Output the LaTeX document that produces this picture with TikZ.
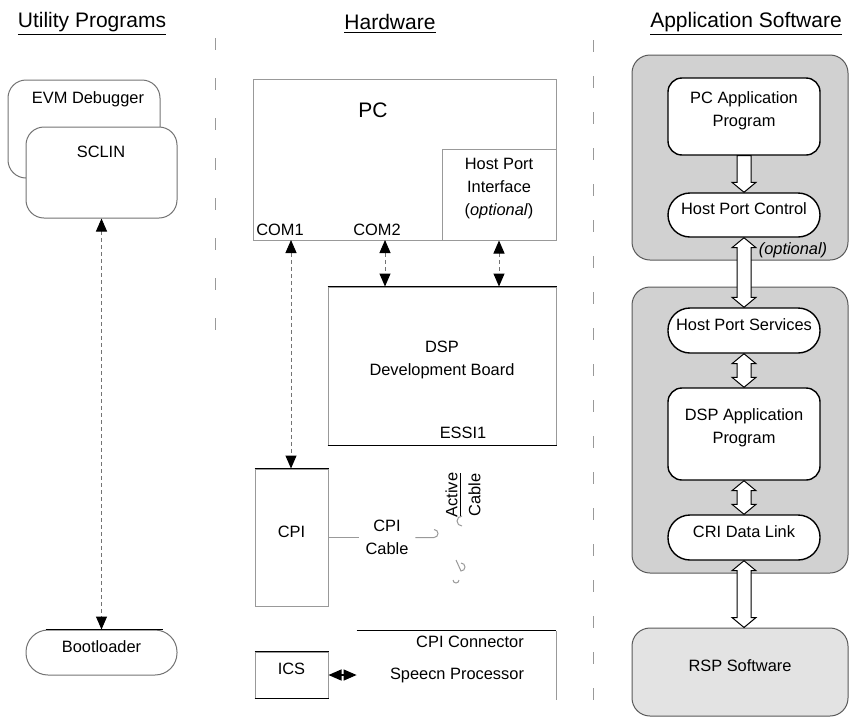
\documentclass[tikz,border=0pt]{standalone}
\usepackage{fontspec}
\setmainfont{Liberation Sans}
\usetikzlibrary{arrows.meta,fit,calc}

\begin{document}
\begin{tikzpicture}[x=0.5pt,y=-0.5pt,
  font=\fontsize{8.2}{11.5}\selectfont,
  every node/.append style={align=center},
  >={Triangle[width=5.5pt,length=6.5pt,color=black]},
  faint/.style={draw=black!40,line width=0.5pt},
  hwbox/.style={faint,inner sep=0pt},
  utilbox/.style={draw=black!55,line width=0.5pt,rounded corners=9pt,inner sep=0pt},
  appgroup/.style={draw=black!65,line width=0.5pt,fill=black!18,rounded corners=9pt,inner sep=0pt},
  appbox/.style={draw,line width=0.7pt,fill=white,rounded corners=7pt,inner sep=0pt},
  stadium/.style={appbox,rounded corners=11pt},
  heading/.style={font=\fontsize{10.5}{12}\selectfont},
  link/.style={<->,draw=black!55,line width=0.5pt,dash pattern=on 2pt off 1.5pt},
  hollow/.style={draw,line width=0.5pt,fill=white},
  ]
\useasboundingbox (0,0) rectangle (850,718);

% headings and separators
\node[heading] (hutil) at (92,24) {\underline{Utility Programs}};
\node[heading] (hhw) at (390,24) {\underline{Hardware}};
\node[heading] (happ) at (746,24) {\underline{Application Software}};
\draw[faint,dash pattern=on 6pt off 14pt] (215,38) -- (215,330);
\draw[faint,dash pattern=on 6pt off 12pt] (593,40) -- (593,700);

% utility programs
\node[utilbox,fit={(8,80) (160,178)}] (evm) {};
\node (evmtxt) at (88,99) {EVM Debugger};
\node[utilbox,fill=white,fit={(26,127) (177,218)}] (sclin) {};
\node (sclintxt) at (101,152) {SCLIN};
\node[utilbox,rounded corners=11pt,fit={(26,630) (177,675)}] (boot) {Bootloader};
\draw ($(boot.north west)+(20,0)$) -- ($(boot.north east)+(-15,0)$);
\draw[link] (sclin.south) -- (boot.north);

% hardware
\node[hwbox,fit={(253,79) (556,240)}] (pc) {};
\node[heading] (pctxt) at (373,110) {PC};
\node[hwbox,fit={(442,149) (556,240)}] (hpi) {Host Port\\Interface\\(\textit{optional})};
\node (com1) at (280,230) {COM1};
\node (com2) at (377,230) {COM2};
\coordinate (com1port) at (291,240);
\coordinate (com2port) at (385,240);

\node[hwbox,fit={(328,287) (556,445)}] (dsp) {DSP\\Development Board};
\node (essi) at (463,433) {ESSI1};
\draw (dsp.north west) -- (dsp.north east);
\draw (dsp.south west) -- (dsp.south east);

\node[hwbox,fit={(255,469) (328,606)}] (cpi) {CPI};
\draw (cpi.north west) -- (cpi.north east);
\node[hwbox,fit={(255,652) (328,698)}] (ics) {ICS};
\draw (ics.north west) -- (ics.north east);
\draw (ics.south west) -- (ics.south east);

\node[inner sep=0pt,fit={(357,631) (556,700)}] (sp) {};
\draw (sp.north west) -- (sp.north east);
\draw[faint] (sp.north east) -- (sp.south east);
\node (cpicon) at (470,642) {CPI Connector};
\node (sptxt) at (457,675) {Speecn Processor};

\draw[link] (com1port) -- (com1port |- cpi.north);
\draw[link] (com2port) -- (com2port |- dsp.north);
\draw[link] (hpi.south) -- (hpi.south |- dsp.north);
\draw[<->,line width=0.6pt] (ics.east) -- (ics.east -| sp.west);

% cpi cable
\node (cable) at (387,537.5) {CPI\\Cable};
\draw[faint] (cpi.east) -- (cable.west);
\draw[faint] (cable.east) -- (434,537.5) arc[start angle=90,end angle=-90,radius=4];
\node[rotate=90] (active) at (463,495) {\underline{Active}\\Cable};
\draw[faint] (462,526) arc[start angle=90,end angle=270,radius=5];
\draw[faint] (456,560) -- (461,571) arc[start angle=90,end angle=-90,radius=4];
\draw[faint] (459,580) arc[start angle=0,end angle=180,radius=3];

% application software
\node[appgroup,fit={(632,55) (848,260)}] (grp1) {};
\node[appgroup,fit={(632,287) (848,573)}] (grp2) {};
\node[appgroup,fill=black!11,fit={(632,628) (848,716)}] (rsp) {RSP Software};

\node[appbox,fit={(668,78) (820,155)}] (pcapp) {PC Application\\Program};
\node[stadium,fit={(668,193) (820,237)}] (hpc) {Host Port Control};
\node (opt) at (793,250) {\textit{(optional)}};
\node[stadium,fit={(668,308) (820,353)}] (hps) {Host Port Services};
\node[appbox,fit={(668,388) (820,480)}] (dspapp) {DSP Application\\Program};
\node[stadium,fit={(668,515) (820,560)}] (cri) {CRI Data Link};

\draw[hollow] ($(pcapp.south)+(-7,0)$) -- ++(14,0)
  -- ($(pcapp.south |- hpc.north)+(7,-10)$) -- ++(5,0)
  -- (pcapp.south |- hpc.north) -- ++(-12,-10) -- ++(5,0) -- cycle;
\foreach \a/\b in {hpc/hps,hps/dspapp,dspapp/cri,cri/rsp}{
  \draw[hollow] (\a.south) -- ++(12,10) -- ++(-5,0)
    -- ($(\a.south |- \b.north)+(7,-10)$) -- ++(5,0)
    -- (\a.south |- \b.north) -- ++(-12,-10) -- ++(5,0)
    -- ($(\a.south)+(-7,10)$) -- ++(-5,0) -- cycle;
}
\end{tikzpicture}
\end{document}
